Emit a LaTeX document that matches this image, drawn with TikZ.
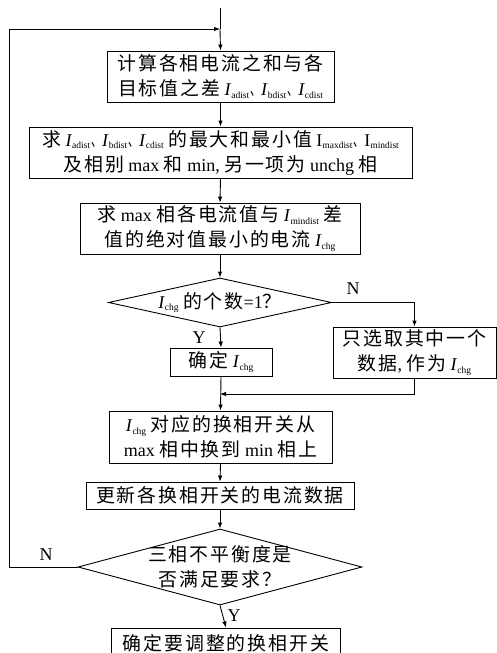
\documentclass[tikz,border=0pt]{standalone}
\usepackage{fontspec}
\setmainfont{Liberation Serif}
\newfontfamily\cjkf[Scale=1.05,LetterSpace=10]{Noto Sans CJK SC}
\newfontfamily\cjkp[Scale=1.05]{Noto Sans CJK SC}
\usetikzlibrary{shapes.geometric,arrows.meta}
\newcommand{\zh}[1]{{\cjkf #1}}
\newcommand{\dun}{\kern1.5pt\scalebox{0.55}[1]{\cjkp 、}}
\newcommand{\Is}[1]{\textit{I}\raisebox{-0.3ex}{\fontsize{9.5}{9.5}\selectfont #1}}
\newcommand{\Iu}[1]{I\raisebox{-0.3ex}{\fontsize{9.5}{9.5}\selectfont #1}}
\tikzset{
  box/.style={draw, line width=0.9pt, inner sep=0pt, align=center, font=\fontsize{18}{25}\selectfont},
  dia/.style={draw, line width=0.9pt, diamond, inner sep=0pt},
  txt/.style={inner sep=0pt, align=center, font=\fontsize{18}{25}\selectfont},
  lbl/.style={inner sep=0pt, font=\fontsize{18}{18}\selectfont},
  arr/.style={line width=0.9pt, -{Latex[length=6pt,width=4.5pt]}},
  ln/.style={line width=0.9pt}
}
\begin{document}
\begin{tikzpicture}[x=1pt,y=-1pt]
\path[fill=white, use as bounding box] (0,0) rectangle (497,653);

\node[box, minimum width=227, minimum height=51] (b1) at (220.5,76.5)
  {\zh{计算各相电流之和与各}\\\zh{目标值之差} \Is{adist}\dun\Is{bdist}\dun\Is{cdist}};
\node[box, minimum width=383, minimum height=51] (b2) at (220.5,152.5)
  {\zh{求} \Is{adist}\dun\Is{bdist}\dun\Is{cdist} \zh{的最大和最小值} \Iu{maxdist}\dun\Iu{mindist}\\\zh{及相别} max \zh{和} min, \zh{另一项为} unchg \zh{相}};
\node[box, minimum width=280, minimum height=51] (b3) at (220,228.5)
  {\zh{求} max \zh{相各电流值与} \Is{mindist} \zh{差}\\\zh{值的绝对值最小的电流} \Is{chg}};
\node[dia, minimum width=223, minimum height=49] (d1) at (220,302.5) {};
\node[txt] (d1t) at (d1) {\Is{chg} \zh{的个数}=1\zh{？}};
\node[box, minimum width=102, minimum height=28] (b4) at (221,362) {\zh{确定} \Is{chg}};
\node[box, minimum width=163, minimum height=51] (b5) at (414.5,352.5)
  {\zh{只选取其中一个}\\\zh{数据}, \zh{作为} \Is{chg}};
\node[box, minimum width=223, minimum height=52] (b6) at (220.5,437)
  {\Is{chg} \zh{对应的换相开关从}\\max \zh{相中换到} min \zh{相上}};
\node[box, minimum width=268, minimum height=27] (b7) at (220,495.5) {\zh{更新各换相开关的电流数据}};
\node[dia, minimum width=284, minimum height=76] (d2) at (220,567) {};
\node[txt] (d2t) at (d2) {\zh{三相不平衡度是}\\\zh{否满足要求？}};
\node[box, minimum width=229, minimum height=30] (b8) at (226,643) {\raisebox{2pt}{\zh{确定要调整的换相开关}}};

\node[lbl] (n1) at (353,289) {N};
\node[lbl] (y1) at (199,338) {Y};
\node[lbl] (n2) at (46,555) {N};
\node[lbl] (y2) at (234,616) {Y};

\coordinate (start) at (220,8);
\coordinate (join) at (220,29);
\coordinate (lp) at (9,29);
\coordinate (m) at (220,394);

\draw[ln] (start) -- (join);
\draw[arr] (join) -- (b1.north);
\draw[arr] (b1.south) -- (b2.north);
\draw[arr] (b2.south) -- (b3.north);
\draw[arr] (b3.south) -- (d1.north);
\draw[arr] (d1.south) -- (b4.north);
\draw[arr] (d1.east) -| (b5.north);
\draw[arr] (b5.south) |- (m);
\draw[arr] (b4.south) -- (b6.north);
\draw[arr] (b6.south) -- (b7.north);
\draw[arr] (b7.south) -- (d2.north);
\draw[arr] (d2.south) -- (b8.north);
\draw[arr] (d2.west) -| (lp) -- (join);
\end{tikzpicture}
\end{document}
